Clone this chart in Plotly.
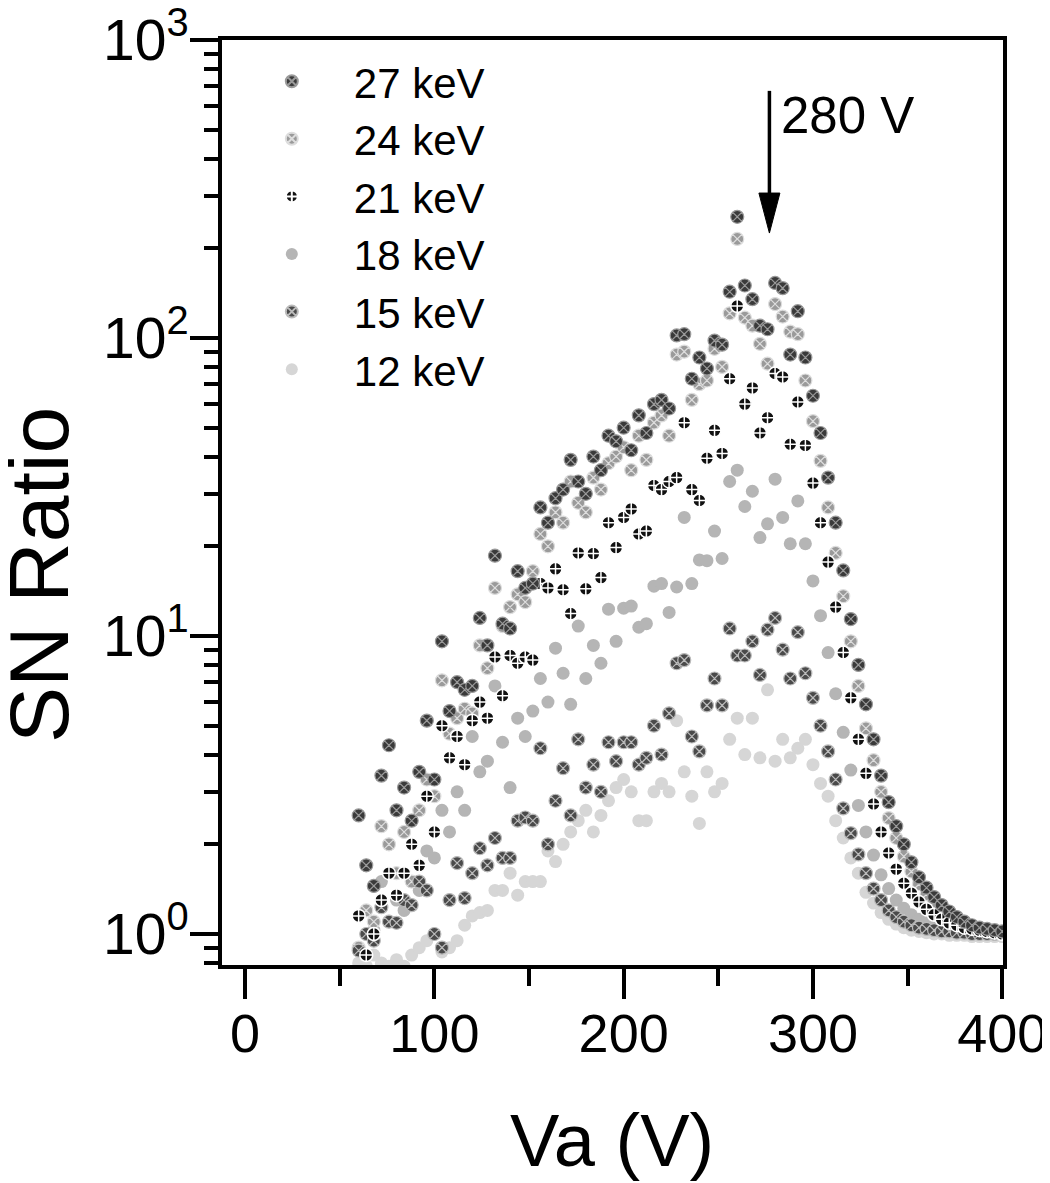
import plotly.graph_objects as go
import math

# Va grid (V), 4 V steps from 60 to 400
va = [60, 64, 68, 72, 76, 80, 84, 88, 92, 96, 100, 104, 108, 112, 116, 120, 124, 128, 132, 136,
      140, 144, 148, 152, 156, 160, 164, 168, 172, 176, 180, 184, 188, 192, 196, 200, 204, 208, 212, 216,
      220, 224, 228, 232, 236, 240, 244, 248, 252, 256, 260, 264, 268, 272, 276, 280, 284, 288, 292, 296,
      300, 304, 308, 312, 316, 320, 324, 328, 332, 336, 340, 344, 348, 352, 356, 360, 364, 368, 372, 376,
      380, 384, 388, 392, 396, 400]

sn_27kev = [2.5, 1.7, 1.45, 3.4, 4.3, 2.6, 3.1, 2.4, 3.5, 5.2, 3.3, 9.6, 5.6, 7.0, 6.6, 6.8, 11.5, 9.3, 18.6, 11.0,
            10.6, 16.5, 14.5, 15.0, 27, 24, 29, 31, 39, 33, 30, 40, 36, 47, 45, 50, 42, 55, 48, 60,
            62, 58, 102, 103, 73, 86, 79, 98, 95, 143, 255, 150, 135, 110, 107, 153, 147, 88, 123, 86,
            64, 48, 34, 24, 16.6, 11.4, 8.0, 5.9, 4.5, 3.4, 2.77, 2.3, 2.0, 1.74, 1.55, 1.43, 1.33, 1.25, 1.19, 1.14,
            1.1, 1.07, 1.05, 1.04, 1.03, 1.02]

sn_24kev = [0.9, 1.2, 1.1, 2.3, 2.0, 1.6, 2.2, 1.5, 2.6, 3.3, 2.9, 7.1, 4.7, 5.3, 5.7, 5.5, 9.3, 7.8, 14.5, 10.8,
            12.5, 13.8, 13.0, 16.5, 22, 20, 26, 24, 33, 28, 26, 34, 31, 38, 40, 43, 36, 47, 39, 52,
            55, 47, 88, 90, 62, 70, 72, 92, 80, 121, 215, 117, 110, 95.6, 82, 130, 118, 105, 103, 72,
            52.6, 38.7, 27, 19, 13.6, 9.6, 6.8, 4.9, 3.83, 3.0, 2.45, 2.1, 1.82, 1.62, 1.47, 1.36, 1.28, 1.21, 1.16, 1.12,
            1.09, 1.06, 1.04, 1.03, 1.02, 1.01]

sn_21kev = [1.15, 0.85, 1.0, 1.3, 1.6, 1.35, 1.6, 2.0, 1.7, 2.9, 2.2, 5.0, 3.9, 4.6, 3.7, 5.2, 6.0, 5.3, 8.5, 6.3,
            8.6, 8.1, 8.5, 8.3, 15.0, 14.5, 16.8, 14.3, 11.9, 19, 14.4, 18.9, 15.7, 24, 19.8, 25, 26.7, 22, 22.5, 32,
            31, 33, 34, 52, 31, 28.5, 39.5, 49, 41, 73, 128, 60, 68, 48, 54, 76, 74, 44, 61, 43.6,
            32.6, 24, 17.7, 12.5, 8.8, 6.2, 4.5, 3.46, 2.73, 2.2, 1.87, 1.65, 1.48, 1.37, 1.28, 1.21, 1.16, 1.12, 1.09, 1.07,
            1.05, 1.04, 1.03, 1.02, 1.01, 1.0]

sn_18kev = [0.9, 0.85, 1.03, 1.5, 2.0, 1.3, 1.2, 1.5, 1.4, 1.9, 1.8, 2.6, 2.2, 3.0, 2.6, 4.6, 3.5, 3.8, 6.8, 4.4,
            3.1, 5.3, 4.6, 5.6, 7.2, 6.0, 9.1, 7.5, 5.9, 10.8, 7.2, 9.3, 8.1, 12.3, 9.6, 12.4, 12.6, 10.7, 11.0, 14.7,
            15.0, 12.0, 14.6, 25, 15, 18, 17.9, 22.5, 18.2, 33, 36, 27.2, 30.6, 21.4, 23.8, 33.6, 25, 20.4, 28.4, 20.4,
            15.3, 11.7, 8.8, 6.4, 4.75, 3.55, 2.7, 2.2, 1.84, 1.58, 1.42, 1.3, 1.22, 1.16, 1.12, 1.09, 1.07, 1.05, 1.04, 1.03,
            1.02, 1.02, 1.01, 1.01, 1.0, 1.0]

sn_15kev = [0.88, 1.0, 0.95, 1.23, 1.1, 1.09, 1.3, 1.25, 1.5, 1.4, 1.0, 0.9, 1.3, 1.73, 1.32, 1.6, 1.94, 1.7, 2.1, 1.8,
            1.8, 2.4, 2.46, 2.4, 4.2, 2.0, 2.8, 3.6, 2.5, 4.5, 3.1, 3.7, 3.0, 4.4, 3.8, 4.4, 4.4, 3.7, 3.9, 5.0,
            4.0, 5.5, 8.1, 8.3, 4.6, 4.1, 5.85, 7.2, 5.85, 10.6, 8.6, 8.6, 9.6, 7.4, 10.5, 11.5, 9.0, 7.2, 10.3, 7.5,
            6.2, 5.0, 4.1, 3.3, 2.64, 2.18, 1.85, 1.6, 1.42, 1.3, 1.2, 1.14, 1.1, 1.07, 1.05, 1.04, 1.03, 1.02, 1.02, 1.01,
            1.01, 1.0, 1.0, 1.0, 1.0, 1.0]

sn_12kev = [0.8, 0.78, 0.85, 0.8, 0.78, 0.82, 0.78, 0.85, 0.9, 0.95, 1.0, 0.87, 0.9, 0.95, 1.07, 1.15, 1.18, 1.2, 1.4, 1.4,
            1.6, 1.35, 1.5, 1.5, 1.5, 1.9, 1.75, 2.0, 2.2, 2.4, 2.6, 2.2, 2.5, 2.8, 3.1, 3.3, 3.0, 2.4, 2.4, 3.0,
            3.2, 3.0, 5.2, 3.5, 2.9, 2.35, 3.5, 3.0, 3.2, 4.5, 5.3, 4.0, 5.3, 3.9, 6.6, 3.8, 4.5, 3.9, 4.2, 4.5,
            3.7, 3.2, 2.9, 2.4, 2.1, 1.8, 1.6, 1.38, 1.27, 1.18, 1.12, 1.08, 1.05, 1.03, 1.02, 1.01, 1.0, 1.0, 0.99, 0.99,
            0.99, 0.98, 0.98, 0.98, 0.98, 0.98]

series_names = ["27 keV", "24 keV", "21 keV", "18 keV", "15 keV", "12 keV"]
series_values = [sn_27kev, sn_24kev, sn_21kev, sn_18kev, sn_15kev, sn_12kev]

x_ticks = [0, 100, 200, 300, 400]
y_tickvals = [1, 10, 100, 1000]
y_ticktext = ["10<sup>0</sup>", "10<sup>1</sup>", "10<sup>2</sup>", "10<sup>3</sup>"]

arrow_va = 277
arrow_tip = 225
arrow_tail = 675
arrow_label = "280 V"
arrow_label_y = 560

styles = [
    dict(symbol="circle-x", color="#3a3a3a", line=dict(color="#9a9a9a", width=1.2)),
    dict(symbol="circle-x", color="#9a9a9a", line=dict(color="#dddddd", width=1.2)),
    dict(symbol="circle-cross", color="#111111", line=dict(color="#ffffff", width=1.5)),
    dict(symbol="circle", color="#b5b5b5", line=dict(width=0)),
    dict(symbol="circle-x", color="#4a4a4a", line=dict(color="#bbbbbb", width=1.2)),
    dict(symbol="circle", color="#d6d6d6", line=dict(width=0)),
]

FONT = "Liberation Sans, Arial, sans-serif"

X_RANGE = [-12.2, 400.4]
Y_RANGE = [math.log10(0.787), 3]
PLOT_H = 925.0  # plot area height in px
PLOT_W = 781.0  # plot area width in px


def ypaper(v):
    return (math.log10(v) - Y_RANGE[0]) / (Y_RANGE[1] - Y_RANGE[0])


fig = go.Figure()
# draw light series first so dark ones sit on top
order = [5, 3, 1, 4, 2, 0]
for i in order:
    st = styles[i]
    fig.add_trace(go.Scatter(
        x=va, y=series_values[i], mode="markers", name=series_names[i],
        marker=dict(size=13, symbol=st["symbol"], color=st["color"], line=st["line"]),
        legendrank=i + 1,
    ))

# arrow: shaft + narrow filled head
tip_p = ypaper(arrow_tip)
tail_p = ypaper(arrow_tail)
head_len_p = 40.0 / PLOT_H
head_half_w = 10.5 * (X_RANGE[1] - X_RANGE[0]) / PLOT_W
fig.add_shape(type="line", xref="x", yref="paper", x0=arrow_va, x1=arrow_va,
              y0=tail_p, y1=tip_p + head_len_p * 0.9, line=dict(color="black", width=3.5))
fig.add_shape(type="path", xref="x", yref="paper",
              path=(f"M {arrow_va - head_half_w},{tip_p + head_len_p} "
                    f"L {arrow_va + head_half_w},{tip_p + head_len_p} "
                    f"L {arrow_va},{tip_p} Z"),
              fillcolor="black", line=dict(color="black", width=1))

fig.add_annotation(
    x=arrow_va, y=math.log10(arrow_label_y), xref="x", yref="y", text=arrow_label, showarrow=False,
    xanchor="left", yanchor="middle", xshift=10, font=dict(size=51, color="black", family=FONT),
)

# axis titles as annotations (positioned like the reference)
fig.add_annotation(text="SN Ratio", textangle=-90, xref="paper", yref="paper",
                   x=(39 - 222) / PLOT_W, y=(965 - 575) / PLOT_H, xanchor="center", yanchor="middle",
                   showarrow=False, font=dict(size=84, color="black", family=FONT))
fig.add_annotation(text="Va (V)", xref="paper", yref="paper",
                   x=(612 - 222) / PLOT_W, y=(965 - 1140) / PLOT_H, xanchor="center", yanchor="middle",
                   showarrow=False, font=dict(size=74, color="black", family=FONT))

axis_common = dict(
    showline=True, linewidth=4, linecolor="black", mirror=True, automargin=False,
    ticks="outside", tickwidth=4, tickcolor="black", showgrid=False, zeroline=False,
    ticklabeloverflow="allow",
)

fig.update_xaxes(
    range=X_RANGE, tickvals=x_ticks, ticklen=30, ticklabelstandoff=-12,
    tickfont=dict(size=54, color="black", family=FONT),
    minor=dict(ticks="outside", ticklen=17, tickwidth=4, tickcolor="black", dtick=50, tick0=0, showgrid=False),
    **axis_common,
)
fig.update_yaxes(
    type="log", range=Y_RANGE, tickvals=y_tickvals, ticktext=y_ticktext, ticklen=28, ticklabelstandoff=-10,
    tickfont=dict(size=57, color="black", family=FONT),
    minor=dict(ticks="outside", ticklen=14, tickwidth=4, tickcolor="black", dtick="D1", showgrid=False),
    **axis_common,
)

fig.update_layout(
    width=1050, height=1183,
    margin=dict(l=214, r=55, t=32, b=226),
    paper_bgcolor="white", plot_bgcolor="white",
    font=dict(family=FONT, color="black"),
    showlegend=True,
    legend=dict(x=0.01, y=0.992, xanchor="left", yanchor="top", bgcolor="rgba(0,0,0,0)",
                font=dict(size=42, color="black", family=FONT), itemsizing="constant",
                tracegroupgap=0, itemwidth=114),
)

fig.write_html("out.html")
